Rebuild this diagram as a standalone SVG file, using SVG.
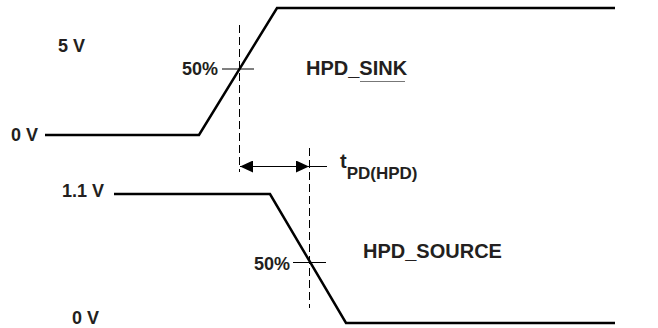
<svg xmlns="http://www.w3.org/2000/svg" width="658" height="328" viewBox="0 0 658 328">
<style>
text{font-family:"Liberation Sans",Arial,sans-serif;font-weight:bold;fill:#231f20}
.lbl{font-size:18px}
.big{font-size:20px}
.wave{fill:none;stroke:#000;stroke-width:2.5;stroke-linejoin:miter}
.dash{fill:none;stroke:#000;stroke-width:1;stroke-dasharray:8,4}
.thin{fill:none;stroke:#000;stroke-width:1}
</style>
<defs>
<marker id="ah" viewBox="0 0 13 12" refX="13" refY="6" markerWidth="13" markerHeight="12" markerUnits="userSpaceOnUse" orient="auto-start-reverse">
<path d="M0,0 L13,6 L0,12 Z" fill="#000"/>
</marker>
</defs>
<rect width="658" height="328" fill="#fff"/>
<g id="sink">
<polyline class="wave" points="45,135 199,135 277,8 615,8"/>
<text class="lbl" x="58" y="52">5 V</text>
<text class="lbl" x="11" y="141">0 V</text>
<text class="big" x="306" y="75">HPD_SINK</text>
<line x1="360" y1="81.5" x2="405" y2="81.5" stroke="#777" stroke-width="1"/>
</g>
<g id="source">
<polyline class="wave" points="114,194 270,194 346,323 615,323"/>
<text class="lbl" x="62" y="197">1.1 V</text>
<text class="lbl" x="72" y="324">0 V</text>
<text class="big" x="363" y="258">HPD_SOURCE</text>
</g>
<g id="connectors">
<line class="dash" x1="239.5" y1="25" x2="239.5" y2="172"/>
<line class="dash" x1="309.5" y1="148" x2="309.5" y2="308"/>
<line class="thin" x1="222" y1="69" x2="254" y2="69"/>
<line class="thin" x1="293" y1="262.5" x2="326" y2="262.5"/>
<line class="thin" x1="240" y1="166.5" x2="309" y2="166.5" marker-start="url(#ah)" marker-end="url(#ah)"/>
<line class="thin" x1="309" y1="166.5" x2="327" y2="166.5"/>
</g>
<g id="labels">
<text class="lbl" x="218" y="75" text-anchor="end">50%</text>
<text class="lbl" x="290" y="270" text-anchor="end">50%</text>
<text class="big" x="340" y="168">t<tspan font-size="17" dy="11">PD(HPD)</tspan></text>
</g>
</svg>
